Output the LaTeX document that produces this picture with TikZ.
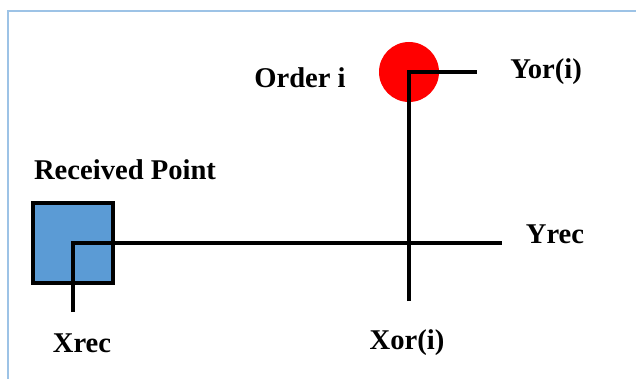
\documentclass[tikz,border=0pt]{standalone}
\usepackage{fontspec}
\setmainfont{Liberation Serif}
\usetikzlibrary{positioning}
\definecolor{framebl}{HTML}{9DC3E6}
\definecolor{recbl}{HTML}{5B9BD5}

\begin{document}
\begin{tikzpicture}[x=0.5pt,y=-0.5pt,
        lbl/.style={font=\fontsize{14.3}{16}\selectfont\bfseries, inner sep=0pt},
        ln/.style={line width=2pt},
        recbox/.style={draw, line width=2pt, fill=recbl, minimum size=40pt, inner sep=0pt},
        ordpt/.style={circle, fill=red, minimum size=30pt, inner sep=0pt}]
        \useasboundingbox (0,0) rectangle (636,379);

        % frame
        \draw[framebl, line width=0.6pt] (8,400) -- (8,11) -- (660,11);

        % received point and order
        \node[recbox] (rec) at (73,243) {};
        \node[ordpt] (ord) at (409,72) {};

        \coordinate (xrecend) at (73,312);
        \coordinate (yrecend) at (502,243);
        \coordinate (xorend) at (409,301);
        \coordinate (yorend) at (477,72);

        % lines
        \draw[ln] (xrecend) -- (rec.center) -- (yrecend);
        \draw[ln] (xorend) -- (ord.center) -- (yorend);

        % labels
        \node[lbl] (reclbl) at (125,170) {Received Point};
        \node[lbl] (ordlbl) at (300,78) {Order i};
        \node[lbl] (yorlbl) at (546,72) {Yor(i)};
        \node[lbl] (yreclbl) at (555,234) {Yrec};
        \node[lbl] (xreclbl) at (82,343) {Xrec};
        \node[lbl] (xorlbl) at (407,343) {Xor(i)};

    \end{tikzpicture}
\end{document}
